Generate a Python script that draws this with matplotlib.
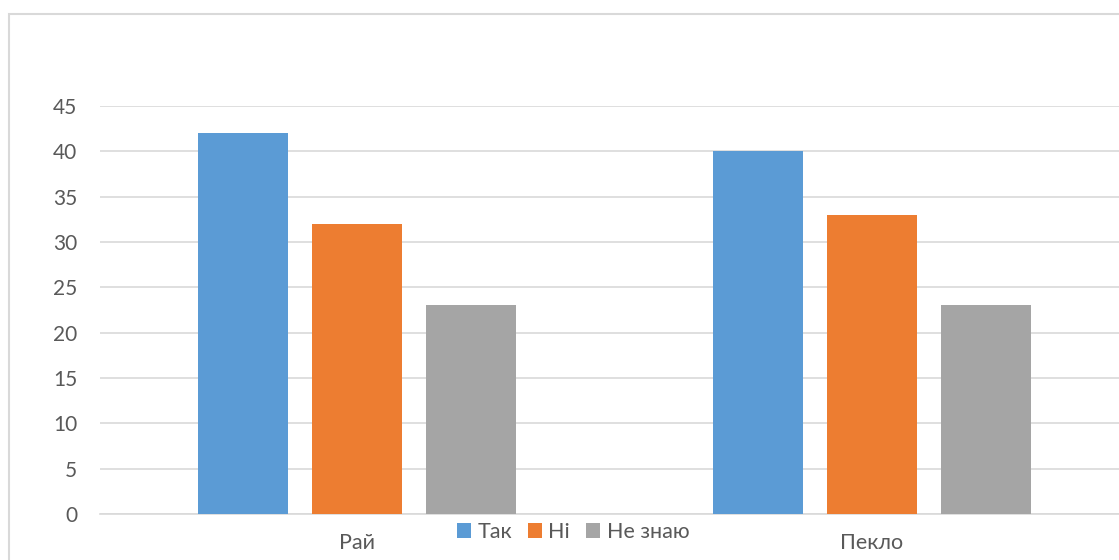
import numpy as np
import matplotlib.pyplot as plt
from matplotlib.patches import Rectangle

# дані діаграми
categories = ["Рай", "Пекло"]
series_names = ["Так", "Ні", "Не знаю"]
tak = [42, 40]
ni = [32, 33]
ne_znayu = [23, 23]
y_ticks = [0, 5, 10, 15, 20, 25, 30, 35, 40, 45]

colors = ["#5B9BD5", "#ED7D31", "#A5A5A5"]
grid_c = "#D9D9D9"
text_c = "#595959"

plt.rcParams['font.family'] = ['Lato', 'DejaVu Sans']

fig = plt.figure(figsize=(11.19, 5.6), dpi=100)
# область графіка трохи виходить за правий край (як у скріншоті)
ax = fig.add_axes([99.5 / 1119, 46 / 560, 1030 / 1119, 408 / 560])

x = np.arange(len(categories))
bw = 0.175
offsets = [-0.2214, 0.0, 0.2214]
for vals, name, c, off in zip([tak, ni, ne_znayu], series_names, colors, offsets):
    ax.bar(x + off, vals, width=bw, color=c, label=name, zorder=3)

ax.set_xlim(-0.5, 1.5)
ax.set_ylim(0, 45)
ax.set_yticks(y_ticks)
ax.set_xticks(x)
ax.set_xticklabels(categories)
ax.yaxis.grid(True, color=grid_c, linewidth=1.2)
ax.set_axisbelow(True)
for s in ["top", "right", "left"]:
    ax.spines[s].set_visible(False)
ax.spines["bottom"].set_color(grid_c)
ax.spines["bottom"].set_linewidth(1.2)
ax.tick_params(axis="y", length=0, pad=16, labelsize=15, labelcolor=text_c)
ax.tick_params(axis="x", length=0, pad=14, labelsize=15.5, labelcolor=text_c)

# легенда внизу, по центру
fig.legend(loc="center", bbox_to_anchor=(573 / 1119, 1 - 532 / 560), ncol=3,
           frameon=False, handlelength=0.65, handleheight=0.65, handletextpad=0.3,
           columnspacing=0.75, prop={"size": 15.5}, labelcolor=text_c)

# рамка діаграми
fig.patches.append(Rectangle((9 / 1119, -0.1), 1.2, 1.075, transform=fig.transFigure,
                             fill=False, edgecolor=grid_c, linewidth=1.5))

fig.savefig("out.png", dpi=100)
